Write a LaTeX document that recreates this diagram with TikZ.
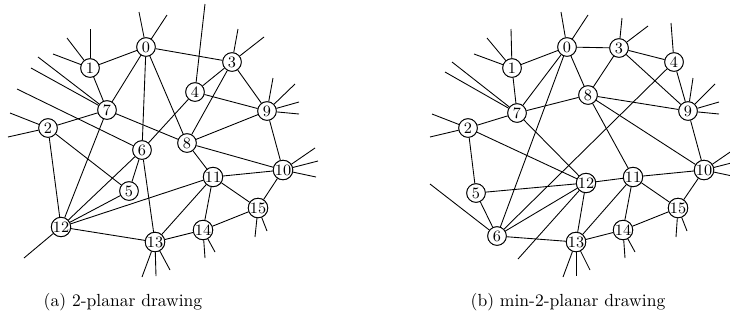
\documentclass[tikz,border=0pt]{standalone}
\begin{document}
\begin{tikzpicture}[x=0.57pt,y=-0.57pt,
  vtx/.style={circle,draw,fill=white,inner sep=0pt,minimum size=10.6pt,font=\small,line width=0.5pt},
  edge/.style={line width=0.5pt},
  captxt/.style={font=\normalsize}]
\useasboundingbox (0,0) rectangle (730,326);
% ---------- (a) ----------
\foreach \n/\x/\y in {0/146/47,1/90/68,7/107/110,2/48/128,6/142/150,5/129/191,12/61/227,13/155/242,
  3/232/62,4/195/92,9/267/111,8/187/143,11/213/177,10/283/170,15/258/208,14/203/230}
  \node[vtx] (a\n) at (\x,\y) {\n};
% ---------- (b) ----------
\foreach \n/\x/\y in {0/567/47,1/512/68,7/517/113,2/468/128,6/497/236,5/476/193,12/586/183,13/576/242,
  3/619/48,4/674/62,9/688/111,8/588/95,11/633/177,10/704/170,15/678/208,14/623/230}
  \node[vtx] (b\n) at (\x,\y) {\n};
\foreach \p in {a,b}{
  \foreach \u/\v in {0/1,0/7,0/3,0/6,0/8,1/7,7/2,7/8,7/12,2/12,2/5,3/4,3/8,3/9,4/9,4/6,8/9,8/11,8/10,9/10,
    6/5,6/12,6/13,5/12,12/11,12/13,13/11,13/14,11/10,11/15,11/14,10/15,14/15}
    \draw[edge] (\p\u) -- (\p\v);
}
% stubs (a)
\foreach \u/\x/\y [count=\i] in {0/139/12,0/167/15,1/90/29,1/67/38,1/53/54,7/38/57,7/31/68,2/10/113,2/8/137,
  6/17/89,4/205/4,3/238/29,3/264/37,9/273/78,9/295/84,9/299/102,9/299/114,10/315/148,10/318/161,10/316/177,
  15/255/237,15/267/231,14/205/258,14/215/252,13/142/277,13/156/276,13/170/270,12/24/258}
  {\coordinate (sa\i) at (\x,\y); \draw[edge] (a\u) -- (sa\i);}
% stubs (b)
\foreach \u/\x/\y [count=\i] in {0/561/12,0/588/15,1/511/29,1/487/38,1/474/54,7/452/62,7/445/72,2/432/114,2/430/137,
  6/430/184,4/671/23,3/622/18,3/648/26,9/693/78,9/715/84,9/719/102,9/719/114,10/736/148,10/739/161,10/737/177,
  15/676/237,15/687/231,14/625/258,14/635/252,13/563/277,13/576/276,13/590/270,12/518/259}
  {\coordinate (sb\i) at (\x,\y); \draw[edge] (b\u) -- (sb\i);}
% redraw nodes on top
\foreach \n in {0,...,15} {\node[vtx] at (a\n) {\n}; \node[vtx] at (b\n) {\n};}
\node[captxt] (capa) at (123,302) {(a) 2-planar drawing};
\node[captxt] (capb) at (568,302) {(b) min-2-planar drawing};
\end{tikzpicture}
\end{document}
